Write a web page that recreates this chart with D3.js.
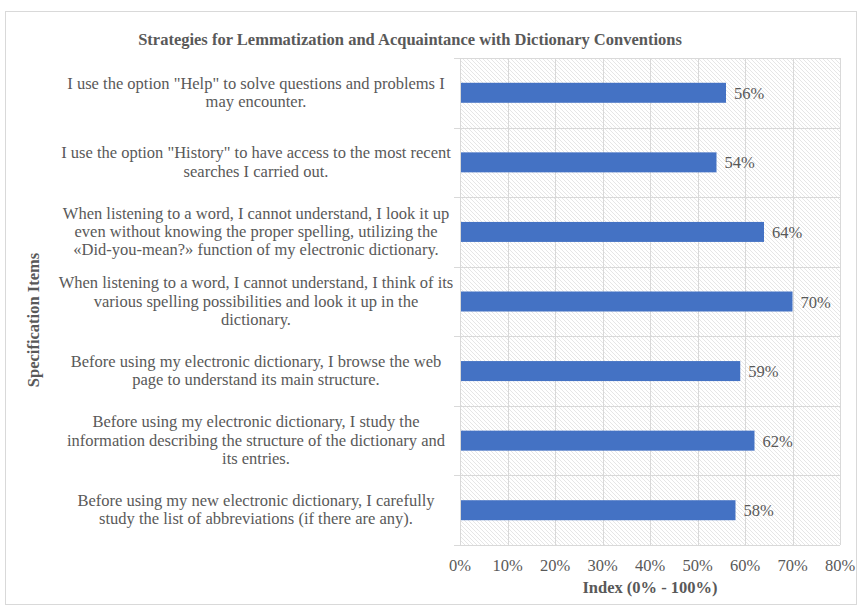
<!DOCTYPE html>
<html><head><meta charset="utf-8">
<script src="https://cdn.jsdelivr.net/npm/d3@7"></script>
<style>body{margin:0;background:#fff}svg{display:block}</style>
</head><body>
<script>
const categories = [
  "I use the option \"Help\" to solve questions and problems I\nmay encounter.",
  "I use the option \"History\" to have access to the most recent\nsearches I carried out.",
  "When listening to a word, I cannot understand, I look it up\neven without knowing the proper spelling, utilizing the\n«Did-you-mean?» function of my electronic dictionary.",
  "When listening to a word, I cannot understand, I think of its\nvarious spelling possibilities and look it up in the\ndictionary.",
  "Before using my electronic dictionary, I browse the web\npage to understand its main structure.",
  "Before using my electronic dictionary, I study the\ninformation describing the structure of the dictionary and\nits entries.",
  "Before using my new electronic dictionary, I carefully\nstudy the list of abbreviations (if there are any)."
];
const values = [56, 54, 64, 70, 59, 62, 58];
const xTicks = [0, 10, 20, 30, 40, 50, 60, 70, 80];
const title = "Strategies for Lemmatization and Acquaintance with Dictionary Conventions";
const xTitle = "Index (0% - 100%)";
const yTitle = "Specification Items";

const W = 859, H = 607;
const pL = 460, pR = 840, pT = 58, pB = 545;
const font = "'Liberation Serif','Times New Roman',serif";
const textCol = "#595959";
const fs = 16.5;

const svg = d3.select("body").append("svg").attr("width", W).attr("height", H);
svg.append("rect").attr("x", 5.5).attr("y", 11.5).attr("width", W - 8).attr("height", H - 14)
  .attr("fill", "#fff").attr("stroke", "#d9d9d9");

const defs = svg.append("defs");
const pat = defs.append("pattern").attr("id", "hatch").attr("patternUnits", "userSpaceOnUse")
  .attr("width", 4).attr("height", 4);
pat.append("path").attr("d", "M-1,-1 L5,5 M-1,3 L1,5 M3,-1 L5,1")
  .attr("stroke", "#e6e6e6").attr("stroke-width", 1);

const x = d3.scaleLinear().domain([0, 80]).range([pL, pR]);
const y = d3.scaleBand().domain(d3.range(categories.length)).range([pT, pB]).paddingInner(0).paddingOuter(0);

svg.append("rect").attr("x", pL).attr("y", pT).attr("width", pR - pL).attr("height", pB - pT)
  .attr("fill", "url(#hatch)");

svg.append("g").selectAll("line").data(xTicks.slice(1)).join("line")
  .attr("x1", d => Math.round(x(d)) + 0.5).attr("x2", d => Math.round(x(d)) + 0.5)
  .attr("y1", pT).attr("y2", pB).attr("stroke", "#d9d9d9");
svg.append("g").selectAll("line").data(d3.range(categories.length + 1)).join("line")
  .attr("x1", pL - 6).attr("x2", pR)
  .attr("y1", d => Math.round(pT + d * y.step()) + 0.5).attr("y2", d => Math.round(pT + d * y.step()) + 0.5)
  .attr("stroke", "#d9d9d9");
svg.append("line").attr("x1", pL + 0.5).attr("x2", pL + 0.5).attr("y1", pT).attr("y2", pB).attr("stroke", "#d9d9d9");

const barH = 20;
svg.append("g").selectAll("rect").data(values).join("rect")
  .attr("x", x(0) + 1).attr("y", (d, i) => y(i) + y.bandwidth() / 2 - barH / 2)
  .attr("width", d => x(d) - x(0) - 1).attr("height", barH).attr("fill", "#4472c4");

svg.append("g").selectAll("text").data(values).join("text")
  .attr("x", d => x(d) + 8).attr("y", (d, i) => y(i) + y.bandwidth() / 2 + 6)
  .attr("font-family", font).attr("font-size", fs).attr("fill", textCol)
  .text(d => d + "%");

const lh = 18.3;
categories.forEach((c, i) => {
  const lines = c.split("\n");
  const cy = y(i) + y.bandwidth() / 2;
  const t = svg.append("text").attr("font-family", font).attr("font-size", fs).attr("fill", textCol)
    .attr("text-anchor", "middle");
  lines.forEach((l, j) => {
    t.append("tspan").attr("x", 256).attr("y", cy + (j - (lines.length - 1) / 2) * lh + 5).text(l);
  });
});

svg.append("g").selectAll("text").data(xTicks).join("text")
  .attr("x", d => x(d)).attr("y", 571).attr("text-anchor", "middle")
  .attr("font-family", font).attr("font-size", fs).attr("fill", textCol)
  .text(d => d + "%");

svg.append("text").attr("x", 650).attr("y", 593).attr("text-anchor", "middle")
  .attr("font-family", font).attr("font-size", fs).attr("font-weight", "bold").attr("fill", textCol)
  .text(xTitle);

svg.append("text").attr("transform", "translate(39,320) rotate(-90)")
  .attr("text-anchor", "middle").attr("font-family", font).attr("font-size", fs)
  .attr("font-weight", "bold").attr("fill", textCol).text(yTitle);

svg.append("text").attr("x", 410).attr("y", 45).attr("text-anchor", "middle")
  .attr("font-family", font).attr("font-size", fs).attr("font-weight", "bold").attr("fill", textCol)
  .text(title);
</script>
</body></html>
